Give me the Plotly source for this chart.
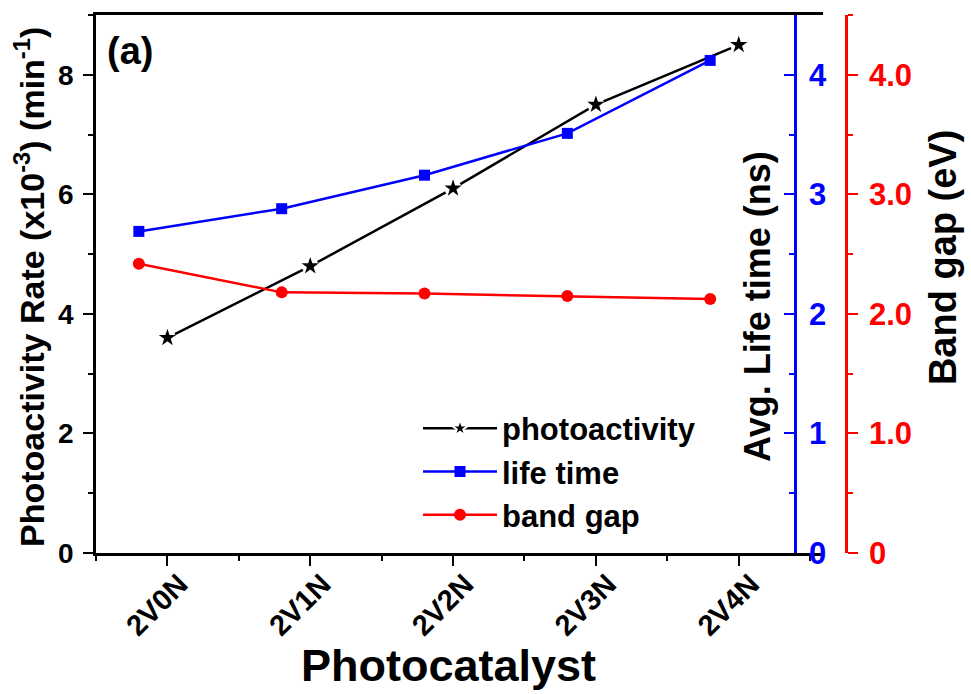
import numpy as np
import plotly.graph_objects as go

# ---------------- data ----------------
categories = ["2V0N", "2V1N", "2V2N", "2V3N", "2V4N"]
photoactivity = [3.6, 4.8, 6.1, 7.5, 8.5]          # x10^-3 min^-1
life_time = [2.69, 2.88, 3.16, 3.51, 4.12]          # ns
band_gap = [2.42, 2.18, 2.17, 2.15, 2.125]          # eV
left_ticks = [0, 2, 4, 6, 8]
blue_ticks = [0, 1, 2, 3, 4]
red_ticks = [0, 1, 2, 3, 4]
red_ticktext = ["0", "1.0", "2.0", "3.0", "4.0"]

FONT = "Liberation Sans, Arial, sans-serif"
BLUE = "#0000FF"
RED = "#FF0000"
LW = 2.5

x_main = np.arange(len(categories))
x_side = x_main - 0.2

fig = go.Figure()

# legend entries
fig.add_trace(go.Scatter(
    x=[None], y=[None], mode="lines+markers", name="photoactivity",
    line=dict(color="black", width=LW),
    marker=dict(symbol="star", size=13, color="black",
                line=dict(color="white", width=2)),
    yaxis="y"))
fig.add_trace(go.Scatter(
    x=[None], y=[None], mode="lines+markers", name="life time",
    line=dict(color=BLUE, width=LW),
    marker=dict(symbol="square", size=11, color=BLUE), yaxis="y2"))
fig.add_trace(go.Scatter(
    x=[None], y=[None], mode="lines+markers", name="band gap",
    line=dict(color=RED, width=LW),
    marker=dict(symbol="circle", size=12, color=RED), yaxis="y3"))

# life time (blue)
fig.add_trace(go.Scatter(
    x=x_side, y=life_time, mode="lines+markers", showlegend=False,
    line=dict(color=BLUE, width=LW),
    marker=dict(symbol="square", size=11, color=BLUE), yaxis="y2"))
# band gap (red)
fig.add_trace(go.Scatter(
    x=x_side, y=band_gap, mode="lines+markers", showlegend=False,
    line=dict(color=RED, width=LW),
    marker=dict(symbol="circle", size=12, color=RED), yaxis="y3"))
# photoactivity (black line, white halo, star)
fig.add_trace(go.Scatter(
    x=x_main, y=photoactivity, mode="lines", showlegend=False,
    line=dict(color="black", width=LW), yaxis="y"))
fig.add_trace(go.Scatter(
    x=x_main, y=photoactivity, mode="markers", showlegend=False,
    marker=dict(symbol="circle", size=17, color="white"), hoverinfo="skip", yaxis="y"))
fig.add_trace(go.Scatter(
    x=x_main, y=photoactivity, mode="markers", showlegend=False,
    marker=dict(symbol="star", size=13, color="black"), yaxis="y"))

L, R, T, B = 96, 125, 13, 141
W, H = 971, 694
pw = W - L - R
ph = H - T - B
def px(xp):
    return (xp - L) / pw
def py(yp):
    return (H - B - yp) / ph

X_RANGE = [-0.5, 4.59]

fig.update_layout(
    width=W, height=H,
    margin=dict(l=L, r=R, t=T, b=B),
    paper_bgcolor="white", plot_bgcolor="white",
    font=dict(family=FONT, color="black"),
    showlegend=True,
    legend=dict(x=px(418), y=py(401), xanchor="left", yanchor="top",
                bgcolor="rgba(0,0,0,0)", borderwidth=0,
                font=dict(family=FONT, size=31, weight="bold", color="black"),
                itemwidth=74, tracegroupgap=0),
    xaxis=dict(
        domain=[0, px(823)], range=X_RANGE,
        tickmode="array", tickvals=list(x_main), ticktext=categories,
        tickangle=-45,
        tickfont=dict(family=FONT, size=29, weight="bold", color="black"),
        ticklabelshift=12, ticklabelstandoff=-10,
        showline=True, linecolor="black", linewidth=LW, mirror=True,
        ticks="outside", ticklen=10, tickwidth=2, tickcolor="black",
        minor=dict(tick0=0.5, dtick=1, ticks="outside", ticklen=5,
                   tickwidth=2, tickcolor="black"),
        showgrid=False, zeroline=False),
    xaxis2=dict(
        overlaying="x", side="top", domain=[0, px(823)], range=X_RANGE,
        anchor="y", tickmode="array", tickvals=list(x_main),
        showticklabels=False, showline=False,
        ticks="inside", ticklen=6, tickwidth=2, tickcolor="black",
        minor=dict(tick0=0.5, dtick=1, ticks="inside", ticklen=4,
                   tickwidth=2, tickcolor="black"),
        showgrid=False, zeroline=False),
    yaxis=dict(
        range=[0, 9], tickmode="array", tickvals=left_ticks,
        tickfont=dict(family=FONT, size=28, weight="bold", color="black"),
        showline=True, linecolor="black", linewidth=LW,
        ticks="outside", ticklen=10, tickwidth=2, tickcolor="black",
        minor=dict(tick0=0, dtick=1, ticks="outside", ticklen=5,
                   tickwidth=2, tickcolor="black"),
        ticklabelstandoff=4,
        showgrid=False, zeroline=False),
    yaxis2=dict(
        overlaying="y", anchor="free", position=px(795), side="right",
        range=[0, 4.5], tickmode="array", tickvals=blue_ticks,
        tickfont=dict(family=FONT, size=31, weight="bold", color=BLUE),
        showline=True, linecolor=BLUE, linewidth=LW,
        ticks="inside", ticklen=10, tickwidth=2, tickcolor=BLUE,
        minor=dict(tick0=0, dtick=0.5, ticks="inside", ticklen=5,
                   tickwidth=2, tickcolor=BLUE),
        ticklabelstandoff=6,
        showgrid=False, zeroline=False),
    yaxis3=dict(
        overlaying="y", anchor="free", position=1.0, side="right",
        range=[0, 4.5], tickmode="array", tickvals=red_ticks,
        ticktext=red_ticktext,
        tickfont=dict(family=FONT, size=31, weight="bold", color=RED),
        showline=True, linecolor=RED, linewidth=LW,
        ticks="outside", ticklen=10, tickwidth=2, tickcolor=RED,
        minor=dict(tick0=0, dtick=0.5, ticks="outside", ticklen=5,
                   tickwidth=2, tickcolor=RED),
        ticklabelstandoff=5,
        showgrid=False, zeroline=False),
)

ann = [
    dict(text="Photoactivity Rate (x10<sup>-3</sup>) (min<sup>-1</sup>)",
         x=px(30), y=py(286), textangle=-90, size=34),
    dict(text="Avg. Life time (ns)", x=px(758), y=py(306), textangle=-90, size=36),
    dict(text="Band gap (eV)", x=px(943), y=py(257), textangle=-90, size=38),
    dict(text="Photocatalyst", x=px(448), y=py(666), textangle=0, size=45),
    dict(text="(a)", x=px(130), y=py(49), textangle=0, size=38),
]
for a in ann:
    fig.add_annotation(
        text=a["text"], x=a["x"], y=a["y"], xref="paper", yref="paper",
        xanchor="center", yanchor="middle", textangle=a["textangle"],
        showarrow=False,
        font=dict(family=FONT, size=a["size"], weight="bold", color="black"))

fig.write_html("out.html")
